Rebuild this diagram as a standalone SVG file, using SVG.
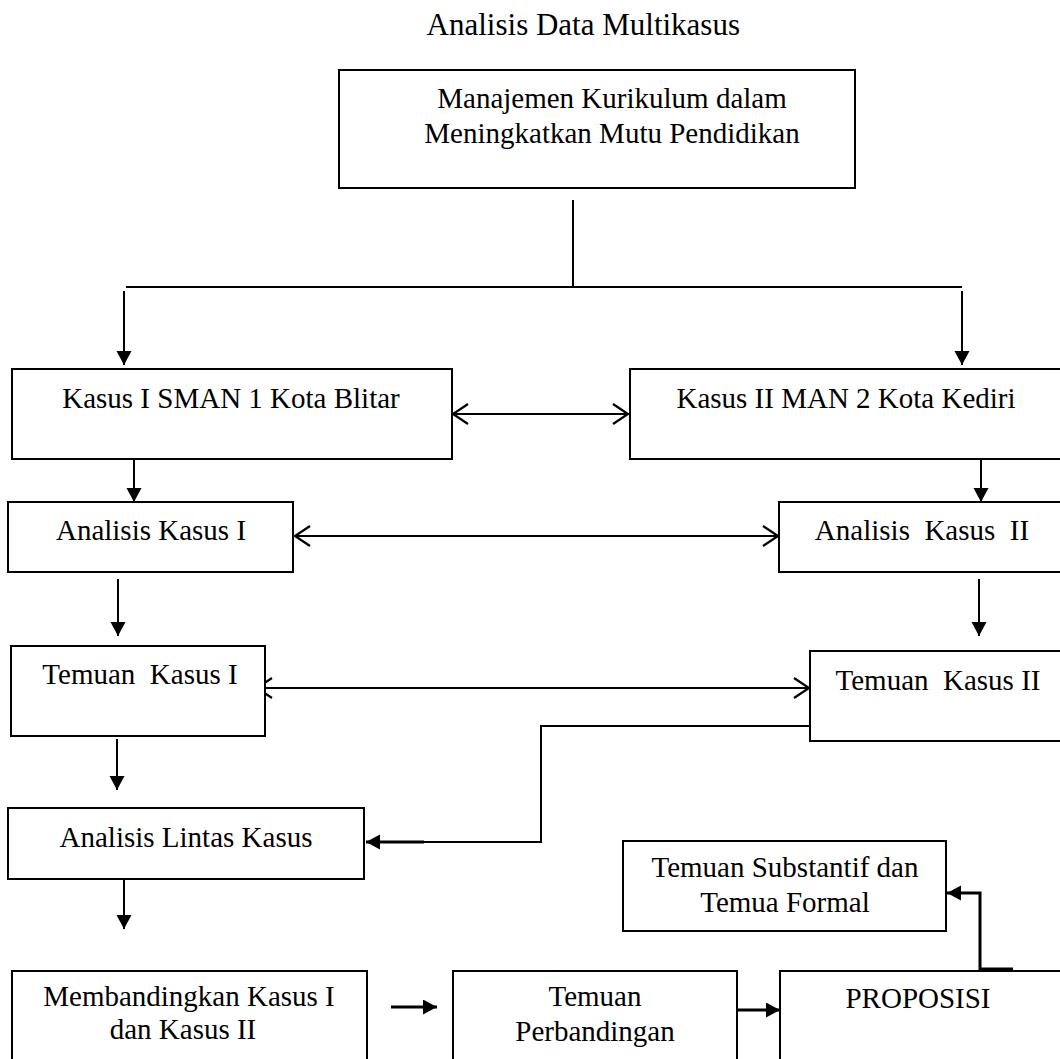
<svg xmlns="http://www.w3.org/2000/svg" width="1060" height="1059" viewBox="0 0 1060 1059">
<style>
  .box { fill: #fff; stroke: #000; stroke-width: 2; }
  .ln { fill: none; stroke: #000; stroke-width: 2; }
  .thick { fill: none; stroke: #000; stroke-width: 3; }
  text { font-family: "Liberation Serif", "Times New Roman", serif; font-size: 29px; fill: #000; text-anchor: middle; }
  .title { font-size: 31px; text-anchor: end; }
</style>
<defs>
  <marker id="fill" markerUnits="userSpaceOnUse" markerWidth="16" markerHeight="16" refX="14" refY="7.5" orient="auto" viewBox="0 0 16 16">
    <path d="M0,0 L14,7.5 L0,15 z" fill="#000"/>
  </marker>
  <marker id="open" markerUnits="userSpaceOnUse" markerWidth="20" markerHeight="24" refX="16" refY="11" orient="auto-start-reverse" viewBox="0 0 20 24">
    <path d="M1,1 L16,11 L1,21" fill="none" stroke="#000" stroke-width="2.2"/>
  </marker>
</defs>
<rect width="1060" height="1059" fill="#fff"/>

<text id="title" class="title" x="740" y="35">Analisis Data Multikasus</text>

<g id="connectors">
  <line class="ln" x1="573" y1="200" x2="573" y2="287"/>
  <line class="ln" x1="126" y1="287" x2="962" y2="287"/>
  <line class="ln" x1="124" y1="291" x2="124" y2="365" marker-end="url(#fill)"/>
  <line class="ln" x1="962" y1="291" x2="962" y2="365" marker-end="url(#fill)"/>
  <line class="ln" x1="453" y1="414" x2="628" y2="414" marker-start="url(#open)" marker-end="url(#open)"/>
  <line class="ln" x1="134" y1="455" x2="134" y2="502" marker-end="url(#fill)"/>
  <line class="ln" x1="981" y1="460" x2="981" y2="502" marker-end="url(#fill)"/>
  <line class="ln" x1="295" y1="536" x2="778" y2="536" marker-start="url(#open)" marker-end="url(#open)"/>
  <line class="ln" x1="118" y1="579" x2="118" y2="636" marker-end="url(#fill)"/>
  <line class="ln" x1="979" y1="579" x2="979" y2="636" marker-end="url(#fill)"/>
  <line class="ln" x1="257" y1="688" x2="809" y2="688" marker-start="url(#open)" marker-end="url(#open)"/>
  <line class="ln" x1="117" y1="739" x2="117" y2="790" marker-end="url(#fill)"/>
  <polyline class="ln" points="810,726 541,726 541,842 423,842"/>
  <line class="thick" x1="424" y1="842" x2="366" y2="842" marker-end="url(#fill)"/>
  <line class="ln" x1="124" y1="879" x2="124" y2="929" marker-end="url(#fill)"/>
  <line class="thick" x1="391" y1="1007" x2="437" y2="1007" marker-end="url(#fill)"/>
  <line class="thick" x1="737" y1="1010" x2="780" y2="1010" marker-end="url(#fill)"/>
  <polyline class="thick" points="1013,969 980,969 980,893 947,893" marker-end="url(#fill)"/>
</g>

<g id="n-manajemen">
  <rect class="box" x="339" y="70" width="516" height="118"/>
  <text x="612" y="108">Manajemen Kurikulum dalam</text>
  <text x="612" y="143">Meningkatkan Mutu Pendidikan</text>
</g>
<g id="n-kasus1">
  <rect class="box" x="12" y="369" width="440" height="90"/>
  <text x="231" y="408">Kasus I SMAN 1 Kota Blitar</text>
</g>
<g id="n-kasus2">
  <rect class="box" x="630" y="369" width="440" height="90"/>
  <text x="846" y="408">Kasus II MAN 2 Kota Kediri</text>
</g>
<g id="n-analisis1">
  <rect class="box" x="8" y="502" width="285" height="70"/>
  <text x="151" y="540">Analisis Kasus I</text>
</g>
<g id="n-analisis2">
  <rect class="box" x="779" y="502" width="291" height="70"/>
  <text x="922" y="540" xml:space="preserve">Analisis  Kasus  II</text>
</g>
<g id="n-temuan1">
  <rect class="box" x="11" y="646" width="254" height="90"/>
  <text x="140" y="684" xml:space="preserve">Temuan  Kasus I</text>
</g>
<g id="n-temuan2">
  <rect class="box" x="810" y="651" width="260" height="90"/>
  <text x="938" y="690" xml:space="preserve">Temuan  Kasus II</text>
</g>
<g id="n-lintas">
  <rect class="box" x="8" y="808" width="356" height="71"/>
  <text x="186" y="847">Analisis Lintas Kasus</text>
</g>
<g id="n-substantif">
  <rect class="box" x="623" y="841" width="323" height="90"/>
  <text x="785" y="877">Temuan Substantif dan</text>
  <text x="785" y="912">Temua Formal</text>
</g>
<g id="n-membandingkan">
  <rect class="box" x="12" y="971" width="355" height="110"/>
  <text x="189" y="1006">Membandingkan Kasus I</text>
  <text x="183" y="1039">dan Kasus II</text>
</g>
<g id="n-perbandingan">
  <rect class="box" x="453" y="971" width="284" height="110"/>
  <text x="595" y="1006">Temuan</text>
  <text x="595" y="1041">Perbandingan</text>
</g>
<g id="n-proposisi">
  <rect class="box" x="780" y="971" width="290" height="110"/>
  <text x="918" y="1008">PROPOSISI</text>
</g>
</svg>
